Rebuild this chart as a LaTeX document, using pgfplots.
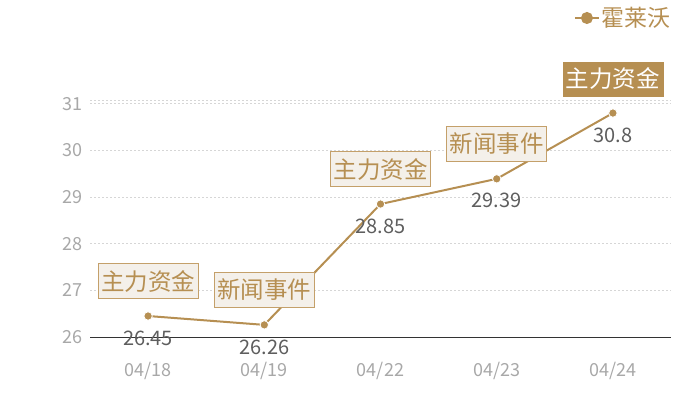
\documentclass[border=0pt]{standalone}
\usepackage{fontspec}
\setmainfont{Noto Sans CJK SC}
\usepackage{pgfplots}
\pgfplotsset{compat=1.18}
\usepackage{pgfplotstable}

\definecolor{gold}{HTML}{B68F52}
\definecolor{goldedge}{HTML}{C4A06A}
\definecolor{paper}{HTML}{F4F0EA}
\definecolor{ticktxt}{HTML}{A8A8A8}
\definecolor{valtxt}{HTML}{5E5E5E}

% day index, closing value, annotation
\pgfplotstableread{
x y label
0 26.45 主力资金
1 26.26 新闻事件
2 28.85 主力资金
3 29.39 新闻事件
4 30.8  主力资金
}\prices

\begin{document}
\begin{tikzpicture}
\path[use as bounding box] (0,0) rectangle (700pt,400pt);
\begin{axis}[
    at={(90pt,63pt)}, anchor=south west,
    scale only axis,
    width=581pt, height=237pt,
    xmin=-0.5, xmax=4.5,
    ymin=26, ymax=31.08,
    xtick={0,...,4},
    xticklabels={04/18,04/19,04/22,04/23,04/24},
    ytick={26,...,31},
    extra y ticks={31.08},
    extra y tick labels={},
    extra y tick style={grid=major},
    axis x line=bottom,
    axis y line*=left,
    y axis line style={draw=none},
    x axis line style={-, color=black!80, line width=0.8pt},
    major tick length=0pt,
    ymajorgrids=true,
    grid style={dash pattern=on 2pt off 2pt, color=black!16, line width=0.5pt},
    ticklabel style={font=\fontsize{18}{20}\selectfont, color=ticktxt},
    xticklabel style={yshift=-22pt},
    yticklabel style={xshift=-4pt},
    /pgf/number format/assume math mode=true,
    clip=false,
    legend style={at={(1.003,1.346)}, anchor=east, draw=none, fill=none,
        inner sep=0pt, font=\fontsize{23}{26}\selectfont, text=gold},
    legend image code/.code={
        \draw[gold, line width=1.2pt] (0pt,0pt) -- (24pt,0pt);
        \fill[gold] (12pt,0pt) circle (5pt);
    },
]
% main line with value labels below the points
\addplot[gold, line width=2pt, mark=*, mark size=4.2pt,
    mark options={fill=gold, draw=white, line width=0.8pt},
    nodes near coords,
    every node near coord/.append style={anchor=center, yshift=-22pt,
        font=\fontsize{20}{22}\selectfont, color=valtxt},
    ] table[x=x, y=y] {\prices};
\addlegendentry{霍莱沃}

% event boxes, light
\addplot[draw=none, mark=none, forget plot,
    point meta=explicit symbolic,
    nodes near coords,
    every node near coord/.append style={anchor=south, yshift=17pt,
        fill=paper, draw=goldedge, line width=1pt, text=gold,
        minimum width=100pt, minimum height=35pt, inner sep=0pt,
        font=\fontsize{23.5}{26}\selectfont},
    ] table[x=x, y=y, meta=label, skip coords between index={4}{5}] {\prices};

% latest event box, filled
\addplot[draw=none, mark=none, forget plot,
    point meta=explicit symbolic,
    nodes near coords,
    every node near coord/.append style={anchor=south, yshift=17pt,
        fill=gold, draw=gold, text=white,
        minimum width=100pt, minimum height=34pt, inner sep=0pt,
        font=\fontsize{23.5}{26}\selectfont},
    ] table[x=x, y=y, meta=label, skip coords between index={0}{4}] {\prices};
\end{axis}
\end{tikzpicture}
\end{document}
